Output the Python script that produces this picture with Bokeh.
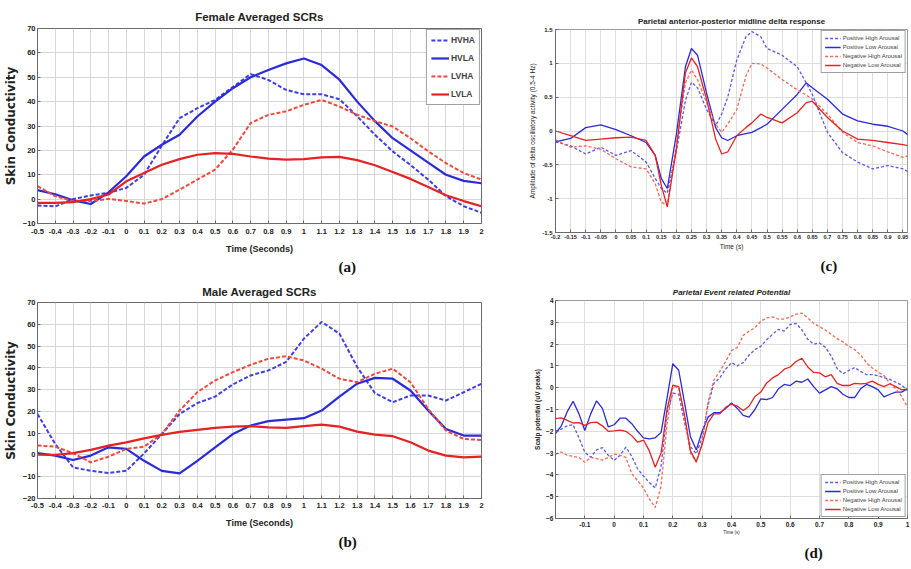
from bokeh.plotting import figure
from bokeh.layouts import row, column
from bokeh.models import (Range1d, FixedTicker, CustomJSTickFormatter, Legend,
                          LegendItem, Title)
from bokeh.embed import file_html
from bokeh.resources import INLINE

# ---------------- data ----------------
# (a) / (b) skin conductance responses
time_ab = [-0.5, -0.4, -0.3, -0.2, -0.1, 0.0, 0.1, 0.2, 0.3, 0.4, 0.5, 0.6, 0.7,
           0.8, 0.9, 1.0, 1.1, 1.2, 1.3, 1.4, 1.5, 1.6, 1.7, 1.8, 1.9, 2.0]
female_hvha = [-2.6, -3.0, 0.0, 1.5, 2.6, 4.6, 10.0, 22.0, 33.2, 37.3, 40.7, 46.0, 51.3,
               48.9, 44.8, 43.0, 43.0, 41.0, 34.0, 26.4, 19.6, 14.0, 8.0, 1.2, -2.9, -5.6]
female_hvla = [3.7, 2.0, -0.5, -2.0, 2.8, 9.4, 17.5, 22.3, 26.4, 33.9, 40.0, 45.5, 50.0,
               53.0, 55.7, 57.7, 55.0, 49.0, 40.0, 32.0, 25.0, 20.0, 15.0, 10.0, 7.5, 6.5]
female_lvha = [5.3, 1.2, -0.8, -0.8, 0.1, -0.8, -1.8, 0.0, 3.9, 8.0, 12.1, 20.3, 31.2,
               34.6, 36.0, 38.7, 40.7, 38.0, 34.6, 32.0, 29.8, 25.0, 19.6, 14.8, 10.7, 8.0]
female_lvla = [-1.5, -1.5, -1.2, 0.0, 1.9, 7.3, 10.7, 14.1, 16.4, 18.2, 18.9, 18.6, 17.5,
               16.6, 16.2, 16.4, 17.1, 17.3, 16.0, 13.9, 11.1, 8.3, 5.0, 1.6, -0.8, -2.9]

male_hvha = [18.8, 5.0, -5.7, -7.3, -8.3, -7.3, 0.7, 9.6, 18.8, 23.8, 26.8, 32.4, 36.5,
             38.8, 42.7, 53.4, 61.1, 55.7, 40.4, 28.4, 24.2, 27.3, 27.3, 25.0, 28.8, 32.7]
male_hvla = [0.8, -0.3, -2.3, -0.3, 3.5, 2.8, -2.7, -7.3, -8.5, -2.7, 3.5, 9.6, 13.5,
             15.5, 16.2, 16.9, 20.4, 26.8, 32.7, 35.4, 35.0, 29.6, 20.4, 11.9, 8.9, 8.9]
male_lvha = [4.3, 3.8, 0.8, -3.4, -0.8, 2.8, 3.8, 9.6, 20.4, 28.8, 34.2, 38.0, 41.4,
             44.2, 45.3, 43.4, 39.6, 35.0, 33.4, 37.3, 39.6, 33.4, 21.1, 11.2, 7.3, 6.9]
male_lvla = [0.1, 0.0, 0.8, 2.3, 4.3, 5.8, 7.6, 9.2, 10.6, 11.5, 12.4, 13.0, 13.2,
             12.7, 12.4, 13.2, 13.9, 13.0, 10.7, 9.3, 8.6, 5.8, 2.0, -0.3, -1.1, -0.8]

scr_labels = ["HVHA", "HVLA", "LVHA", "LVLA"]
xticks_ab = [-0.5, -0.4, -0.3, -0.2, -0.1, 0.0, 0.1, 0.2, 0.3, 0.4, 0.5, 0.6, 0.7,
             0.8, 0.9, 1.0, 1.1, 1.2, 1.3, 1.4, 1.5, 1.6, 1.7, 1.8, 1.9, 2.0]
xlabels_ab = ["-0.5", "-0.4", "-0.3", "-0.2", "-0.1", "0", "0.1", "0.2", "0.3", "0.4",
              "0.5", "0.6", "0.7", "0.8", "0.9", "1", "1.1", "1.2", "1.3", "1.4", "1.5",
              "1.6", "1.7", "1.8", "1.9", "2"]
yticks_a = [-10, 0, 10, 20, 30, 40, 50, 60, 70]
yticks_b = [-20, -10, 0, 10, 20, 30, 40, 50, 60, 70]

# (c) delta response
time_c = [-0.2, -0.15, -0.1, -0.05, 0.0, 0.05, 0.1, 0.13, 0.15, 0.17,
          0.2, 0.23, 0.25, 0.27, 0.3, 0.33, 0.35, 0.37, 0.4,
          0.43, 0.45, 0.48, 0.5, 0.55, 0.6, 0.63, 0.65, 0.7,
          0.75, 0.8, 0.85, 0.9, 0.95, 0.97]
delta_pha = [-0.16, -0.22, -0.34, -0.24, -0.36, -0.29, -0.46, -0.7, -0.85, -0.92,
             -0.3, 0.45, 0.72, 0.64, 0.32, 0.08, 0.25, 0.5, 1.05,
             1.39, 1.47, 1.39, 1.22, 1.12, 0.95, 0.71, 0.54, -0.02,
             -0.32, -0.46, -0.56, -0.51, -0.56, -0.61]
delta_pla = [-0.16, -0.11, 0.05, 0.09, 0.02, -0.07, -0.17, -0.36, -0.7, -0.85,
             -0.05, 0.95, 1.22, 1.12, 0.56, 0.05, -0.1, -0.14, -0.07,
             -0.04, -0.02, 0.05, 0.1, 0.32, 0.54, 0.71, 0.64, 0.47,
             0.25, 0.15, 0.1, 0.07, 0.0, -0.07]
delta_nha = [-0.13, -0.24, -0.22, -0.27, -0.41, -0.53, -0.56, -0.78, -1.05, -1.1,
             -0.2, 0.71, 0.9, 0.76, 0.42, 0.1, -0.02, 0.1, 0.32,
             0.81, 1.0, 0.99, 0.93, 0.76, 0.61, 0.53, 0.47, 0.25,
             -0.02, -0.17, -0.22, -0.31, -0.39, -0.36]
delta_nla = [0.0, -0.07, -0.14, -0.12, -0.1, -0.09, -0.14, -0.36, -0.8, -1.12,
             -0.27, 0.86, 1.08, 0.95, 0.47, -0.12, -0.34, -0.31, -0.07,
             0.05, 0.12, 0.25, 0.2, 0.12, 0.27, 0.42, 0.44, 0.2,
             0.0, -0.12, -0.14, -0.17, -0.2, -0.22]
xticks_c = [-0.2, -0.15, -0.1, -0.05, 0.0, 0.05, 0.1, 0.15, 0.2, 0.25, 0.3, 0.35,
            0.4, 0.45, 0.5, 0.55, 0.6, 0.65, 0.7, 0.75, 0.8, 0.85, 0.9, 0.95]
xlabels_c = ["-0.2", "-0.15", "-0.1", "-0.05", "0", "0.05", "0.1", "0.15", "0.2",
             "0.25", "0.3", "0.35", "0.4", "0.45", "0.5", "0.55", "0.6", "0.65",
             "0.7", "0.75", "0.8", "0.85", "0.9", "0.95"]
yticks_c = [-1.5, -1.0, -0.5, 0.0, 0.5, 1.0, 1.5]
ylabels_c = ["-1.5", "-1", "-0.5", "0", "0.5", "1", "1.5"]

# (d) event related potential
time_d = [-0.2, -0.18, -0.16, -0.14, -0.12, -0.1, -0.08, -0.06, -0.04, -0.02,
          0.0, 0.02, 0.04, 0.06, 0.08, 0.1, 0.12, 0.14, 0.16, 0.18,
          0.2, 0.22, 0.24, 0.26, 0.28, 0.3, 0.32, 0.34, 0.36, 0.38,
          0.4, 0.42, 0.44, 0.46, 0.48, 0.5, 0.52, 0.54, 0.56, 0.58,
          0.6, 0.62, 0.64, 0.66, 0.68, 0.7, 0.72, 0.74, 0.76, 0.78,
          0.8, 0.82, 0.84, 0.86, 0.88, 0.9, 0.92, 0.94, 0.96, 0.98,
          1.0]
erp_pha = [-2.0, -1.9, -1.75, -1.7, -2.3, -2.96, -3.19, -2.85, -2.75, -3.1,
           -3.34, -3.1, -2.73, -3.15, -3.72, -4.05, -4.35, -4.6, -3.6, -1.2,
           -0.25, -0.3, -1.6, -2.7, -3.03, -2.3, -0.8, 0.2, 0.45, 0.85,
           1.15, 1.0, 1.15, 1.5, 1.75, 1.9, 2.2, 2.45, 2.68, 2.6,
           2.9, 2.95, 2.65, 2.22, 2.0, 2.05, 1.85, 1.45, 0.88, 0.64,
           0.79, 0.92, 0.75, 0.6, 0.6, 0.55, 0.46, 0.38, 0.25, 0.12,
           -0.13]
erp_pla = [-2.1, -1.75, -1.1, -0.62, -1.2, -1.96, -1.2, -0.6, -0.95, -1.8,
           -1.7, -1.4, -1.4, -1.65, -2.0, -2.3, -2.35, -2.3, -2.05, -0.5,
           1.1, 0.8, -0.7, -2.25, -2.85, -2.0, -1.35, -1.15, -1.15, -0.95,
           -0.7, -0.95, -1.27, -1.35, -1.0, -0.51, -0.55, -0.45, -0.05, 0.15,
           0.1, 0.3, 0.25, 0.4, 0.05, -0.25, -0.1, 0.05, -0.05, -0.3,
           -0.45, -0.45, -0.05, 0.15, 0.05, -0.1, -0.42, -0.3, -0.2, -0.2,
           -0.05]
erp_nha = [-3.05, -2.95, -3.1, -3.15, -3.2, -3.42, -3.2, -3.25, -3.32, -3.2,
           -3.05, -3.1, -3.2, -3.95, -4.26, -4.6, -5.1, -5.5, -4.5, -1.7,
           0.05, 0.0, -1.3, -3.0, -3.42, -2.5, -0.66, 0.35, 0.75, 1.2,
           1.7, 1.85, 2.4, 2.6, 2.75, 3.05, 3.2, 3.25, 3.15, 3.15,
           3.25, 3.37, 3.42, 3.2, 2.95, 2.8, 2.65, 2.45, 2.25, 2.1,
           1.9, 1.75, 1.5, 1.15, 0.9, 0.72, 0.55, 0.2, -0.05, -0.4,
           -0.89]
erp_nla = [-1.42, -1.38, -1.5, -1.62, -1.6, -1.73, -1.6, -1.58, -1.75, -2.0,
           -1.98, -1.95, -2.0, -2.2, -2.5, -2.4, -2.9, -3.65, -3.0, -1.0,
           0.12, 0.05, -1.27, -2.9, -3.4, -2.6, -1.6, -1.2, -1.2, -0.9,
           -0.75, -0.85, -1.05, -0.85, -0.4, -0.2, 0.22, 0.45, 0.6, 0.85,
           0.95, 1.2, 1.35, 0.95, 0.7, 0.68, 0.5, 0.6, 0.2, 0.1,
           0.1, 0.2, 0.18, 0.2, 0.3, 0.15, 0.05, 0.18, 0.05, -0.1,
           -0.05]
xticks_d = [-0.1, 0.0, 0.1, 0.2, 0.3, 0.4, 0.5, 0.6, 0.7, 0.8, 0.9, 1.0]
xlabels_d = ["-0.1", "0", "0.1", "0.2", "0.3", "0.4", "0.5", "0.6", "0.7", "0.8", "0.9", "1"]
xgrid_d = [-0.2, -0.1, 0.0, 0.1, 0.2, 0.3, 0.4, 0.5, 0.6, 0.7, 0.8, 0.9, 1.0]
yticks_d = [-6, -5, -4, -3, -2, -1, 0, 1, 2, 3, 4]
eeg_labels = ["Positive High Arousal", "Positive Low Arousal",
              "Negative High Arousal", "Negative Low Arousal"]
panel_tags = ["(a)", "(b)", "(c)", "(d)"]

# ---------------- style ----------------
SANS = "Liberation Sans"
WIDE = "DejaVu Sans"
SERIF = "Liberation Serif"
BLUE = "#2a2ad8"
BLUE_D = "#3f3fe0"
RED = "#e52222"
RED_D = "#ec4a3c"
BLUE_L = "#5a5ae6"
RED_L = "#f06a55"


def fmt(ticks, labels):
    return CustomJSTickFormatter(args=dict(t=ticks, l=labels), code="""
        let best = 0, d = Infinity;
        for (let i = 0; i < t.length; i++) {
            const e = Math.abs(t[i] - tick);
            if (e < d) { d = e; best = i; }
        }
        return l[best];
    """)


def make_fig(w, h, xr, yr, borders, title, tsize, tstyle, tstandoff, tvalign):
    p = figure(width=w, height=h, x_range=Range1d(*xr), y_range=Range1d(*yr),
               output_backend="svg", toolbar_location=None,
               min_border_left=borders[0], min_border_right=borders[1],
               min_border_top=borders[2], min_border_bottom=borders[3])
    p.title.text = title
    p.title.align = "center"
    p.title.vertical_align = tvalign
    p.title.text_font = SANS
    p.title.text_font_size = tsize
    p.title.text_font_style = tstyle
    p.title.standoff = tstandoff
    p.title.text_color = "#222222"
    p.background_fill_color = "white"
    p.border_fill_color = "white"
    p.outline_line_color = "#6a6a6a"
    p.outline_line_width = 1
    for ax in (p.xaxis[0], p.yaxis[0]):
        ax.major_tick_in = 3
        ax.major_tick_out = 0
        ax.minor_tick_in = 0
        ax.minor_tick_out = 0
        ax.axis_line_color = "#6a6a6a"
        ax.major_tick_line_color = "#6a6a6a"
        ax.major_label_text_color = "#222222"
        ax.axis_label_text_color = "#222222"
    p.grid.grid_line_color = "#d6d6d6"
    p.grid.grid_line_width = 1
    return p


def style_axis(ax, ticks, formatter, font, size, standoff, label, lfont, lsize,
               lstyle, lstandoff):
    ax.ticker = FixedTicker(ticks=ticks)
    if formatter is not None:
        ax.formatter = formatter
    ax.major_label_text_font = font
    ax.major_label_text_font_size = size
    ax.major_label_text_font_style = "bold"
    ax.major_label_standoff = standoff
    ax.axis_label = label
    ax.axis_label_text_font = lfont
    ax.axis_label_text_font_size = lsize
    ax.axis_label_text_font_style = lstyle
    ax.axis_label_standoff = lstandoff


def add_legend(p, renderers, labels, location, fsize, gw, gh, spacing, pad, style):
    items = [LegendItem(label=lab, renderers=[r]) for lab, r in zip(labels, renderers)]
    lg = Legend(items=items, location=location)
    lg.label_text_font = SANS
    lg.label_text_font_size = fsize
    lg.label_text_font_style = style
    lg.glyph_width = gw
    lg.glyph_height = gh
    lg.spacing = spacing
    lg.padding = pad
    lg.margin = 1
    lg.label_standoff = 2
    lg.label_height = gh
    lg.border_line_color = "#444444"
    lg.border_line_width = 1
    lg.background_fill_color = "white"
    lg.background_fill_alpha = 1
    p.add_layout(lg)


def panel_tag(p, text, offset, standoff):
    p.add_layout(Title(text=text, align="left", offset=offset, standoff=standoff,
                       text_font=SERIF, text_font_size="15px", text_font_style="bold",
                       text_color="#111111"), "below")


# ---------------- (a) ----------------
pa = make_fig(515, 276, (-0.5, 2.0), (-10, 70), (32, 34, 28, 53),
              "Female Averaged SCRs", "11.5px", "bold", 8, "top")
style_axis(pa.xaxis[0], xticks_ab, fmt(xticks_ab, xlabels_ab), SANS, "7.5px", 5,
           "Time (Seconds)", SANS, "9px", "bold", 7)
style_axis(pa.yaxis[0], yticks_a, None, SANS, "7.5px", 2,
           "Skin Conductivity", WIDE, "12px", "bold", 2)
pa.xgrid.ticker = FixedTicker(ticks=xticks_ab)
pa.ygrid.ticker = FixedTicker(ticks=yticks_a)
ra = [
    pa.line(time_ab, female_hvha, line_color=BLUE_D, line_width=2, line_dash="4 2"),
    pa.line(time_ab, female_hvla, line_color=BLUE, line_width=2.2),
    pa.line(time_ab, female_lvha, line_color=RED_D, line_width=2, line_dash="4 2"),
    pa.line(time_ab, female_lvla, line_color=RED, line_width=2.2),
]
add_legend(pa, ra, scr_labels, "top_right", "8.5px", 18, 12, 6, 4, "bold")
panel_tag(pa, panel_tags[0], 301, 0)

# ---------------- (b) ----------------
pb = make_fig(515, 292, (-0.5, 2.0), (-20, 70), (32, 34, 26, 70),
              "Male Averaged SCRs", "11.5px", "bold", 6, "top")
style_axis(pb.xaxis[0], xticks_ab, fmt(xticks_ab, xlabels_ab), SANS, "7.5px", 4,
           "Time (Seconds)", SANS, "9px", "bold", 7)
style_axis(pb.yaxis[0], yticks_b, None, SANS, "7.5px", 2,
           "Skin Conductivity", WIDE, "12px", "bold", 2)
pb.xgrid.ticker = FixedTicker(ticks=xticks_ab)
pb.ygrid.ticker = FixedTicker(ticks=yticks_b)
pb.line(time_ab, male_hvha, line_color=BLUE_D, line_width=2, line_dash="4 2")
pb.line(time_ab, male_hvla, line_color=BLUE, line_width=2.2)
pb.line(time_ab, male_lvha, line_color=RED_D, line_width=2, line_dash="4 2")
pb.line(time_ab, male_lvla, line_color=RED, line_width=2.2)
panel_tag(pb, panel_tags[1], 301, 2)

# ---------------- (c) ----------------
pc = make_fig(396, 276, (-0.2, 0.965), (-1.5, 1.5), (40, 2, 29, 42),
              "Parietal anterior-posterior midline delta response", "8px", "bold", 7,
              "bottom")
pc.outline_line_color = "#9a9a9a"
style_axis(pc.xaxis[0], xticks_c, fmt(xticks_c, xlabels_c), SANS, "5.5px", 2,
           "Time (s)", SANS, "6.5px", "normal", 1)
style_axis(pc.yaxis[0], yticks_c, fmt(yticks_c, ylabels_c), SANS, "6px", 3,
           "Amplitude of delta oscillatory activity (0.5-4 Hz)", SANS, "6.5px", "normal", 3)
pc.xgrid.ticker = FixedTicker(ticks=xticks_c)
pc.ygrid.ticker = FixedTicker(ticks=yticks_c)
pc.grid.grid_line_color = "#dedede"
rc = [
    pc.line(time_c, delta_pha, line_color=BLUE_L, line_width=1.3, line_dash="3 2"),
    pc.line(time_c, delta_pla, line_color=BLUE, line_width=1.3),
    pc.line(time_c, delta_nha, line_color=RED_L, line_width=1.3, line_dash="3 2"),
    pc.line(time_c, delta_nla, line_color=RED, line_width=1.3),
]
add_legend(pc, rc, eeg_labels, "top_right", "6px", 16, 8, 1, 3, "normal")
panel_tag(pc, panel_tags[2], 265, 6)

# ---------------- (d) ----------------
pd_ = make_fig(396, 292, (-0.2, 1.0), (-6, 4), (38, 4, 24, 50),
               "Parietal Event related Potential", "8px", "bold italic", 8, "bottom")
pd_.outline_line_color = "#9a9a9a"
style_axis(pd_.xaxis[0], xticks_d, fmt(xticks_d, xlabels_d), SANS, "6.5px", 3,
           "Time (s)", SANS, "4.5px", "normal", 0)
style_axis(pd_.yaxis[0], yticks_d, None, SANS, "6.5px", 2,
           "Scalp potential (uV peaks)", SANS, "6.5px", "bold", 2)
pd_.xgrid.ticker = FixedTicker(ticks=xgrid_d)
pd_.ygrid.ticker = FixedTicker(ticks=yticks_d)
pd_.grid.grid_line_color = "#dedede"
rd = [
    pd_.line(time_d, erp_pha, line_color=BLUE_L, line_width=1.3, line_dash="3 2"),
    pd_.line(time_d, erp_pla, line_color=BLUE, line_width=1.3),
    pd_.line(time_d, erp_nha, line_color=RED_L, line_width=1.3, line_dash="3 2"),
    pd_.line(time_d, erp_nla, line_color=RED, line_width=1.3),
]
add_legend(pd_, rd, eeg_labels, "bottom_right", "6px", 16, 8, 1, 3, "normal")
panel_tag(pd_, panel_tags[3], 249, 11)

layout = row(column(pa, pb), column(pc, pd_))
open("out.html", "w").write(file_html(layout, INLINE))
